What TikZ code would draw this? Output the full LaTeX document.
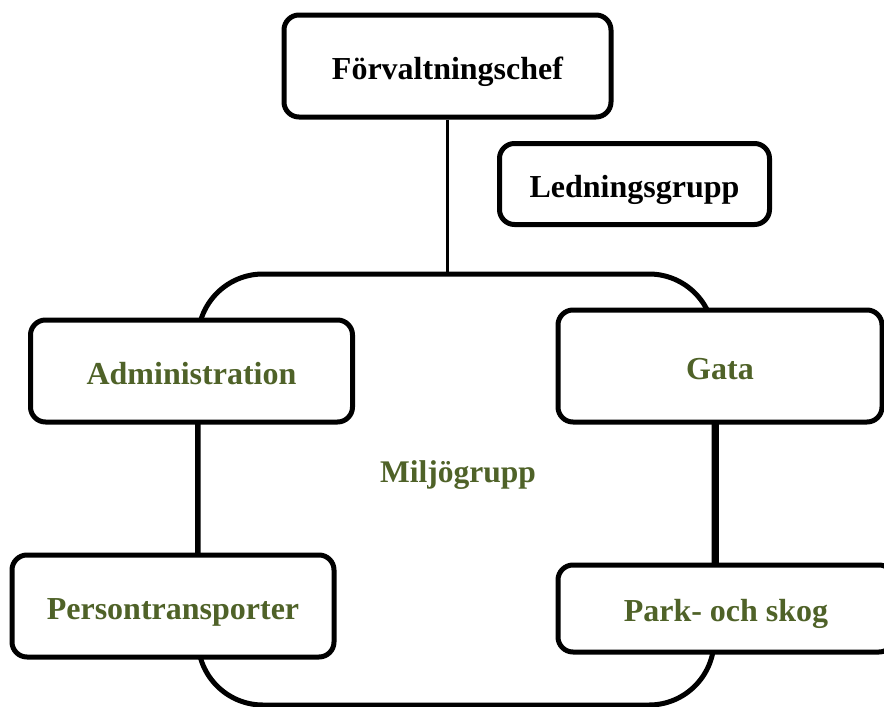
\documentclass[tikz,border=0pt]{standalone}
\usepackage{fontspec}
\setmainfont{Liberation Serif}
\usepackage{tikz}
\usetikzlibrary{calc}
\definecolor{olivegreen}{HTML}{4F6228}
\tikzset{
	unit/.style={shape=rectangle,draw=black,fill=white,line width=5pt,rounded corners=15pt,
		font=\fontsize{32}{36}\selectfont\bfseries,inner sep=0pt,text height=26pt,text depth=0pt},
	subunit/.style={unit,text=olivegreen},
	link/.style={line width=5pt}
}
\begin{document}
\begin{tikzpicture}[x=1pt,y=-1pt]

	\clip (0,0) rectangle (884,707);
	\useasboundingbox (0,0) rectangle (884,707);

	\node[shape=rectangle,draw=black,fill=white,line width=5pt,rounded corners=65pt,
		minimum width=516pt,minimum height=431pt] (miljo) at (456, 489.5) {};
	\node[text=olivegreen,font=\fontsize{31.5}{36}\selectfont\bfseries,
		text height=26pt,text depth=0pt] (miljotext) at (458, 469) {Miljögrupp};

	\node[unit,minimum width=327pt,minimum height=102pt] (chef)    at (447.5, 66)  {Förvaltningschef};
	\node[unit,minimum width=270pt,minimum height=81pt]  (ledning) at (634.5, 184) {Ledningsgrupp};

	\coordinate (as) at ($(191.5, 422)+(5.5,0)$);
	\coordinate (gs) at (716, 422);
	\path[link] (as) edge (as |- 0,556);
	\path[link] (gs) edge (gs |- 0,565);
	\path[line width=3pt] (chef.south) edge (chef.south |- miljo.north);

	\node[subunit,minimum width=322pt,minimum height=102pt] (admin)  at (191.5, 371) {Administration};
	\node[subunit,minimum width=322pt,minimum height=102pt] (person) at (173, 606)   {Persontransporter};
	\node[subunit,minimum width=324pt,minimum height=112pt] (gata)   at (720, 366)   {Gata};
	\node[subunit,minimum width=336pt,minimum height=87pt]  (park)   at (726, 608.5) {Park- och skog};

\end{tikzpicture}
\end{document}
